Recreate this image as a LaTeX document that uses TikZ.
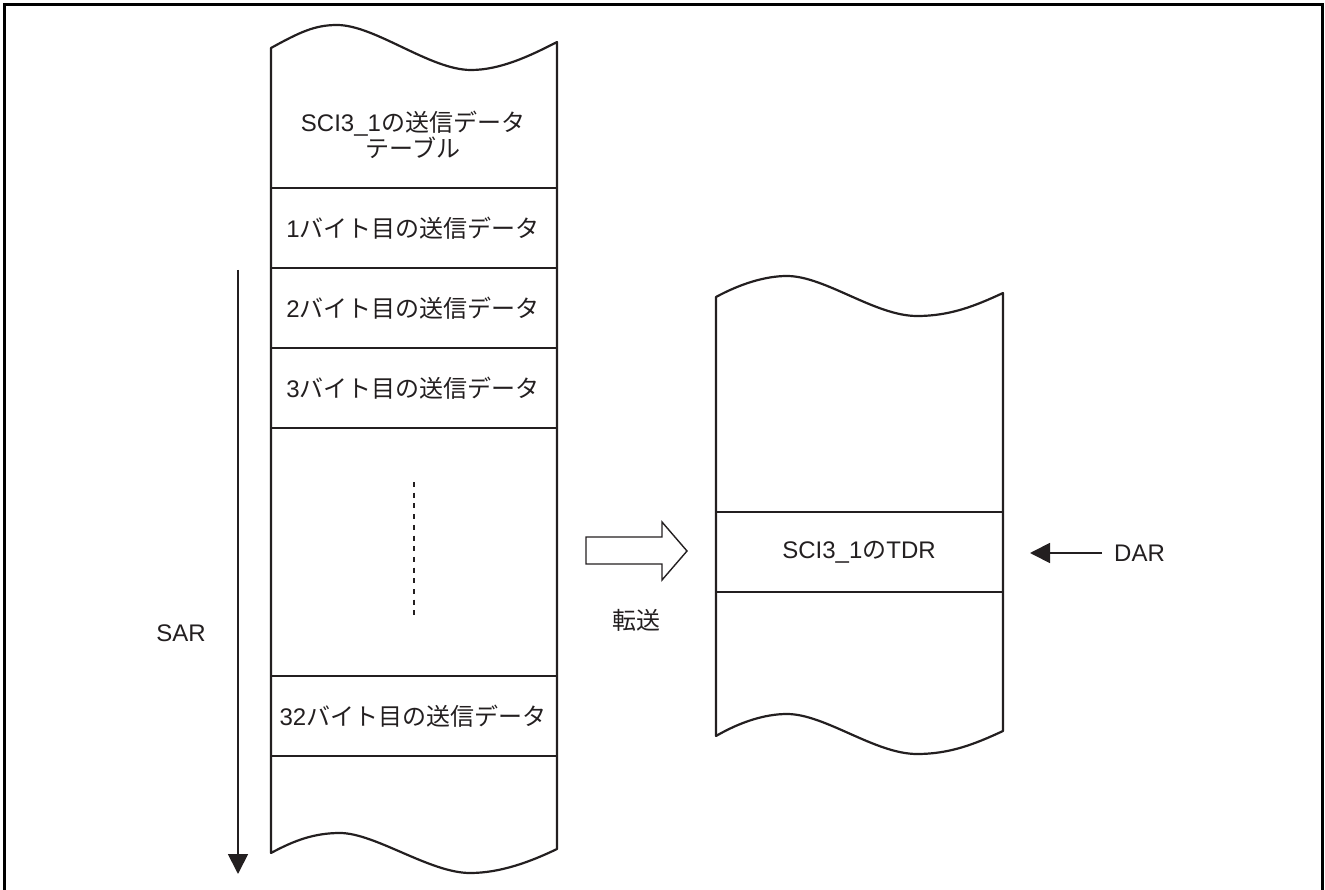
\documentclass[tikz,border=0pt]{standalone}
\usepackage{fontspec}
\setmainfont{Liberation Sans}
\newfontfamily\jp{Noto Sans CJK JP}
\usetikzlibrary{arrows.meta,positioning,calc}
\definecolor{ink}{RGB}{35,31,32}

\tikzset{
  col/.style={ink, line width=2.2pt, line join=round},
  lbl/.style={ink, font=\fontsize{24}{26}\selectfont, inner sep=0pt, align=center},
  ptr/.style={ink, line width=1.8pt, -{Triangle[length=20pt,width=20pt]}},
}

\begin{document}
\begin{tikzpicture}[x=1pt, y=-1pt]
    \useasboundingbox (0,0) rectangle (1325,890);
    % outer frame (open at the bottom)
    \draw[line width=3pt] (4,895) -- (4,5) -- (1322,5) -- (1322,895);

    % source memory (left column)
    \draw[col] (271,48) .. controls (300,32) and (315,25) .. (337,25)
        .. controls (375,25) and (430,70) .. (471,70)
        .. controls (500,70) and (530,56) .. (557,42) -- (557,849)
        .. controls (530,862) and (500,873) .. (470,873)
        .. controls (430,873) and (375,833) .. (340,833)
        .. controls (315,833) and (295,840) .. (271,853) -- cycle;
    \foreach \y in {188,268,348,428,676,756}
        \draw[col] (271,\y) -- (557,\y);
    \node[lbl] (tbl) at (413,135) {SCI3\_1{\jp の送信データ}\\{\jp テーブル}};
    \node[lbl] (b1) at (413,228) {1{\jp バイト目の送信データ}};
    \node[lbl] (b2) at (413,308) {2{\jp バイト目の送信データ}};
    \node[lbl] (b3) at (413,388) {3{\jp バイト目の送信データ}};
    \node[lbl] (b32) at (413,716) {32{\jp バイト目の送信データ}};
    \draw[ink, line width=1.6pt, dash pattern=on 5pt off 5.7pt] (414,482) -- (414,616);

    % source address
    \node[lbl] (sar) at (181,633) {SAR};
    \coordinate (sarTop) at (238,270);
    \coordinate (sarEnd) at (238,874);
    \draw[ptr] (sarTop) -- (sarEnd);

    % transfer arrow
    \draw[ink, line width=1.4pt, line join=miter] (586,537) -- (662,537) -- (662,522)
        -- (687,551) -- (662,580) -- (662,564) -- (586,564) -- cycle;
    \node[lbl] (xfer) at (636,620) {\jp 転送};

    % destination memory (right column)
    \draw[col] (716,297) .. controls (740,284) and (765,276) .. (787,276)
        .. controls (825,276) and (875,316) .. (917,316)
        .. controls (950,316) and (975,306) .. (1003,293) -- (1003,731)
        .. controls (975,744) and (950,754) .. (917,754)
        .. controls (875,754) and (825,714) .. (787,714)
        .. controls (765,714) and (740,722) .. (716,736) -- cycle;
    \foreach \y in {512,592}
        \draw[col] (716,\y) -- (1003,\y);
    \node[lbl] (tdr) at (859,552) {SCI3\_1{\jp の}TDR};

    % destination address
    \node[lbl, anchor=west] (dar) at (1114,553) {DAR};
    \coordinate (darTip) at (1030,553);
    \draw[ptr, shorten <=12pt] (dar.west) -- (darTip);
\end{tikzpicture}
\end{document}
